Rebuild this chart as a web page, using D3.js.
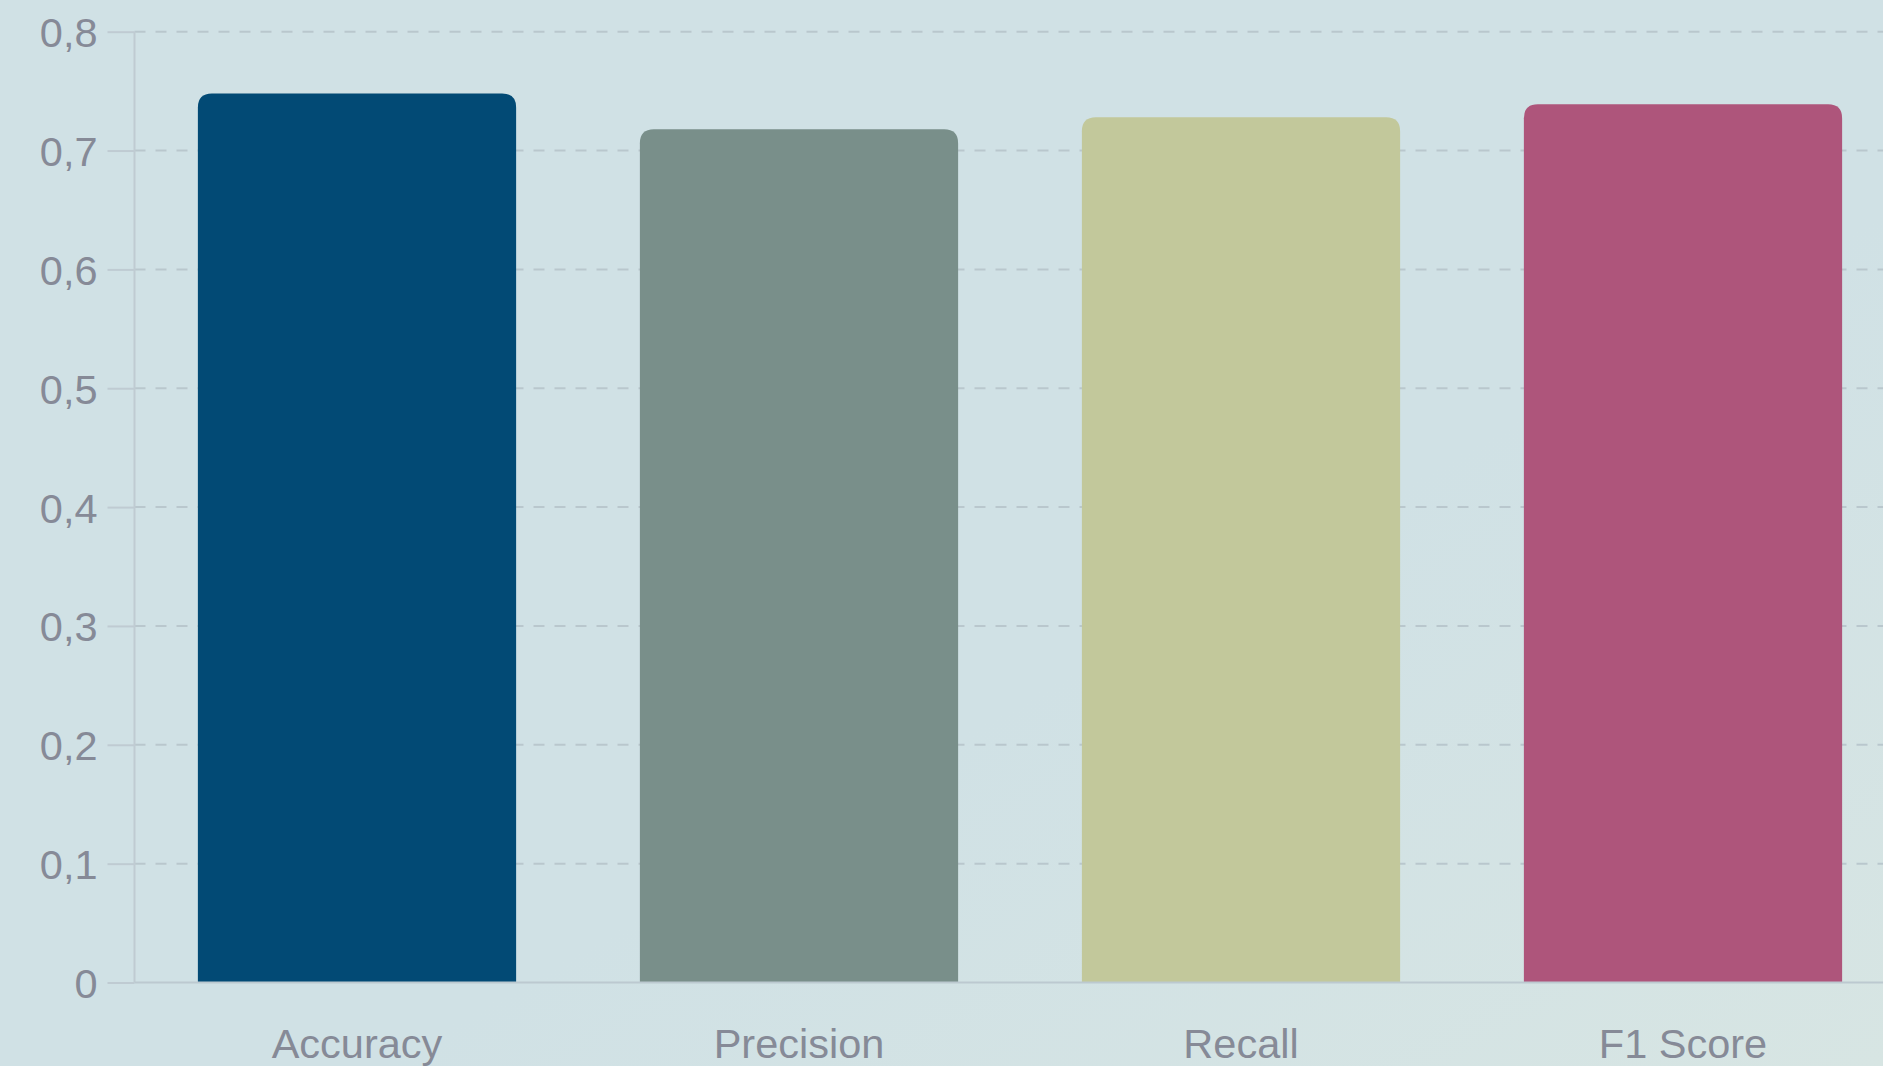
<!DOCTYPE html>
<head>
    <meta charset="utf-8">
    <script src="https://d3js.org/d3.v7.min.js"></script>
    <style>
        html, body {
            margin: 0;
            padding: 0;
            overflow: hidden;
        }
        body {
            font-family: "Liberation Sans", Arial, sans-serif;
            background: #d0e1e5;
        }
        .ticks text {
            fill: #868a97;
            font-size: 41.5px;
        }
        .grid line {
            stroke: #b9c7cd;
            stroke-width: 2px;
            stroke-dasharray: 11 10;
        }
    </style>
</head>

<body>
<div id="vis"></div>

<script>
    // metrics shown on the chart
    var categories = ["Accuracy", "Precision", "Recall", "F1 Score"];
    var values = [0.748, 0.718, 0.728, 0.739];
    var colors = ["#024a75", "#798f8a", "#c2c89b", "#ae557b"];
    var yTicks = [0, 0.1, 0.2, 0.3, 0.4, 0.5, 0.6, 0.7, 0.8];

    var W = 1883, H = 1066;
    var margin = {top: 31.7, left: 134.5, bottom: 83.5};
    var bandStart = 136;
    var plotRight = bandStart + 4 * 442;   // plot runs past the right edge

    var svg = d3.select("#vis")
        .append("svg")
        .attr("width", W)
        .attr("height", H);

    // soft background wash
    var defs = svg.append("defs");
    var grad = defs.append("linearGradient")
        .attr("id", "bg")
        .attr("x1", "0").attr("y1", "0")
        .attr("x2", "1").attr("y2", "1");
    grad.append("stop").attr("offset", "0.6").attr("stop-color", "#d0e1e5");
    grad.append("stop").attr("offset", "1").attr("stop-color", "#d7e5e3");
    svg.append("rect")
        .attr("width", W)
        .attr("height", H)
        .attr("fill", "url(#bg)");

    var x = d3.scaleBand()
        .domain(categories)
        .range([bandStart, plotRight]);

    var y = d3.scaleLinear()
        .domain([0, 0.8])
        .range([H - margin.bottom, margin.top]);

    var fmt = function(d) { return d3.format(".1~f")(d).replace(".", ","); };

    ////////// grid //////////
    svg.append("g")
        .attr("class", "grid")
        .selectAll("line")
        .data(yTicks.filter(function(d) { return d > 0; }))
        .enter()
        .append("line")
        .attr("x1", margin.left)
        .attr("x2", W)
        .attr("y1", function(d) { return y(d); })
        .attr("y2", function(d) { return y(d); });

    // y axis, ticks drawn outward; the domain line is drawn by hand below
    var yAxis = d3.axisLeft(y)
        .tickValues(yTicks)
        .tickFormat(fmt)
        .tickSize(27)
        .tickPadding(10);

    var gy = svg.append("g")
        .attr("class", "ticks")
        .attr("transform", "translate(" + margin.left + ",0)")
        .call(yAxis);
    gy.select(".domain").remove();
    gy.selectAll(".tick line")
        .attr("stroke", "#bfcbd2")
        .attr("stroke-width", 2);
    gy.selectAll(".tick text")
        .attr("font-family", null)
        .attr("font-size", null)
        .attr("dy", "0.36em");

    svg.append("line")
        .attr("x1", margin.left).attr("x2", margin.left)
        .attr("y1", y(0.8)).attr("y2", y(0))
        .attr("stroke", "#bfcbd2")
        .attr("stroke-width", 2);

    ////////// bars //////////
    var r = 14;
    var barW = x.bandwidth() * 0.72;

    function topRounded(x0, y0, w, h, rr) {
        return "M" + x0 + "," + (y0 + h) +
            "V" + (y0 + rr) +
            "Q" + x0 + "," + y0 + " " + (x0 + rr) + "," + y0 +
            "H" + (x0 + w - rr) +
            "Q" + (x0 + w) + "," + y0 + " " + (x0 + w) + "," + (y0 + rr) +
            "V" + (y0 + h) + "Z";
    }

    svg.append("g")
        .selectAll("path")
        .data(categories)
        .enter()
        .append("path")
        .attr("d", function(d, i) {
            var bx = x(d) + (x.bandwidth() - barW) / 2;
            return topRounded(bx, y(values[i]), barW, y(0) - y(values[i]), r);
        })
        .attr("fill", function(d, i) { return colors[i]; });

    // x axis baseline
    svg.append("line")
        .attr("x1", margin.left).attr("x2", W)
        .attr("y1", y(0)).attr("y2", y(0))
        .attr("stroke", "#bcc9d0")
        .attr("stroke-width", 2);

    var xAxis = d3.axisBottom(x)
        .tickSize(0)
        .tickPadding(46);

    var gx = svg.append("g")
        .attr("class", "ticks")
        .attr("transform", "translate(0," + y(0) + ")")
        .call(xAxis);
    gx.select(".domain").remove();
    gx.selectAll(".tick text")
        .attr("font-family", null)
        .attr("font-size", null)
        .attr("dy", "0.71em");
</script>
</body>
